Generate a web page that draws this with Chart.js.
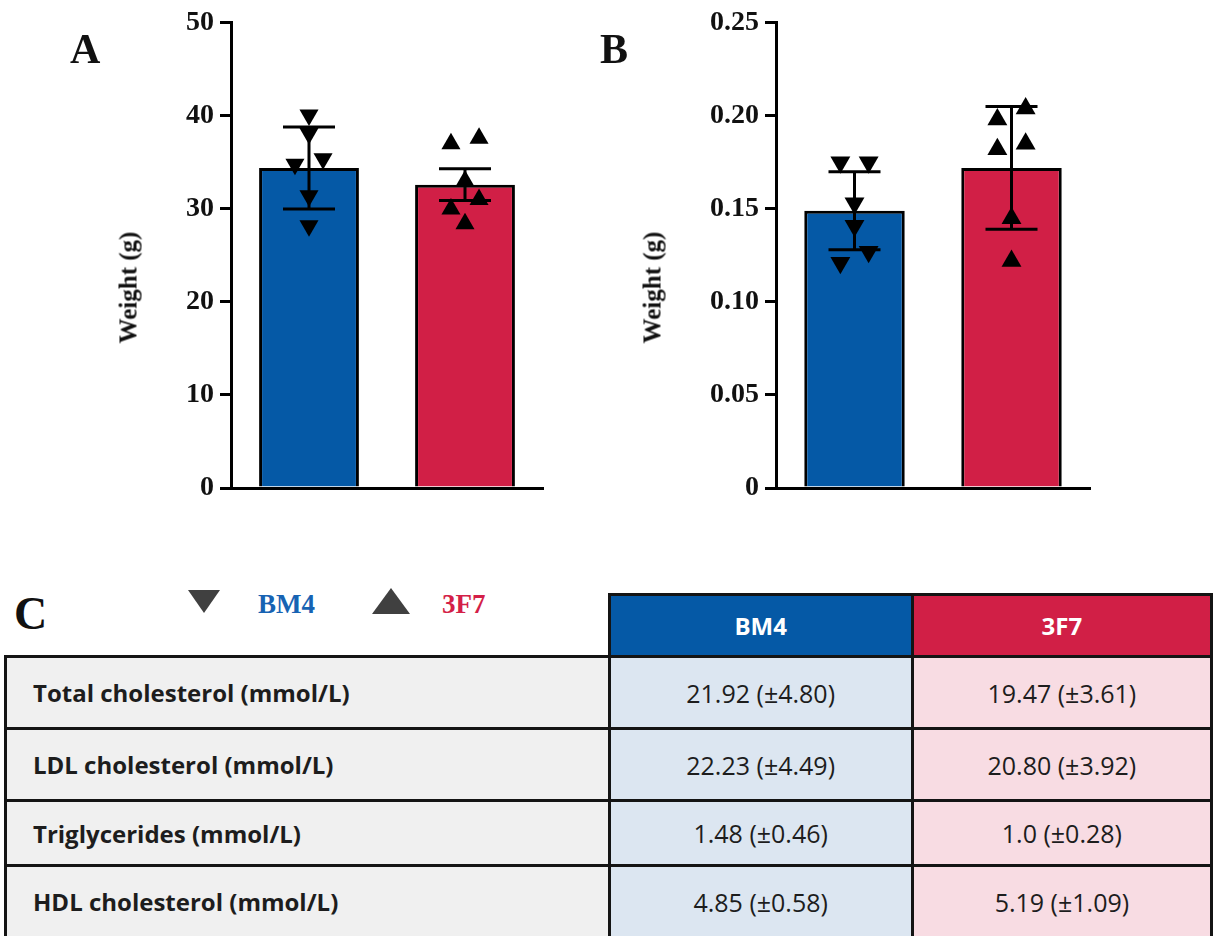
<!DOCTYPE html>
<html>
<head>
<meta charset="utf-8">
<script src="https://cdn.jsdelivr.net/npm/chart.js@4.4.0/dist/chart.umd.min.js"></script>
<style>
  html, body { margin: 0; padding: 0; background: #fff; }
  body { width: 1213px; height: 936px; position: relative; overflow: hidden; }
  .serif { position: absolute; z-index: 2; font-family: "Liberation Serif", "Times New Roman", serif; font-weight: bold; line-height: 1; white-space: nowrap; }
  .ytitle { width: 200px; text-align: center; font-size: 25px; color: #111; transform: rotate(-90deg); }
  canvas { position: absolute; top: 0; }
  #chartA { left: 0; }
  #chartB { left: 560px; }
  #legend { position: absolute; z-index: 2; left: 0; top: 570px; }
  table { position: absolute; z-index: 1; left: 4px; top: 593px; border-collapse: collapse; table-layout: fixed;
          font-family: "Open Sans", Lato, sans-serif; font-size: 25px; color: #1d1d1d; }
  td, th { border: 3px solid #141414; padding: 0; }
  th { color: #fff; font-weight: bold; font-size: 24px; text-align: center; }
  th.blank { border: none; background: transparent; }
  th.bm4 { background: #0559a6; }
  th.f7 { background: #d11f46; }
  td.label { background: #f0f0f0; font-weight: bold; font-size: 24px; padding-left: 26px; }
  td.bm4 { background: #dce6f1; text-align: center; }
  td.f7 { background: #f8dce3; text-align: center; }
</style>
</head>
<body>
<canvas id="chartA" width="560" height="520"></canvas>
<canvas id="chartB" width="560" height="520"></canvas>
<div class="serif" style="left:70px; top:28px; font-size:42px; color:#111;">A</div>
<div class="serif" style="left:600px; top:28px; font-size:42px; color:#111;">B</div>
<div class="serif ytitle" style="left:28px; top:275px;">Weight (g)</div>
<div class="serif ytitle" style="left:552px; top:275px;">Weight (g)</div>
<div class="serif" style="left:14px; top:591px; font-size:46px; color:#111;">C</div>
<svg id="legend" width="600" height="60">
  <polygon points="188,20 220,20 204,43" fill="#404040"/>
  <polygon points="372,44 410,44 391,18" fill="#404040"/>
</svg>
<div class="serif" style="left:258px; top:591px; font-size:27px; color:#1763b3;">BM4</div>
<div class="serif" style="left:442px; top:591px; font-size:27px; color:#d41f48;">3F7</div>
<table id="lipids">
  <colgroup><col style="width:607px"><col style="width:305px"><col style="width:301px"></colgroup>
</table>

<script>
// groups compared in every panel
const groups = ['BM4', '3F7'];

// A: body weight (g), one value per mouse
const bodyBM4 = [40.1, 38.1, 34.8, 35.4, 31.4, 28.2];
const body3F7 = [37.0, 37.6, 33.0, 31.0, 30.0, 28.4];
const bodyMean = [34.4, 32.6];
const bodyErr = [4.4, 1.7];
const bodyTicks = [0, 10, 20, 30, 40, 50];

// B: organ weight (g)
const organBM4 = [0.175, 0.175, 0.153, 0.141, 0.121, 0.127];
const organ3F7 = [0.198, 0.204, 0.182, 0.185, 0.145, 0.122];
const organMean = [0.149, 0.172];
const organErr = [0.021, 0.033];
const organTicks = [0, 0.05, 0.10, 0.15, 0.20, 0.25];

// C: plasma lipids
const lipidNames = ['Total cholesterol (mmol/L)', 'LDL cholesterol (mmol/L)', 'Triglycerides (mmol/L)', 'HDL cholesterol (mmol/L)'];
const lipidBM4 = ['21.92 (±4.80)', '22.23 (±4.49)', '1.48 (±0.46)', '4.85 (±0.58)'];
const lipid3F7 = ['19.47 (±3.61)', '20.80 (±3.92)', '1.0 (±0.28)', '5.19 (±1.09)'];

const barColors = ['#0559a6', '#d11f46'];
Chart.defaults.font.family = '"Liberation Serif", "Times New Roman", serif';

// put points side by side when their values nearly overlap
function dodge(values, max) {
  const thr = max * 0.03;
  const order = values.map((v, i) => i).sort((a, b) => values[a] - values[b]);
  const off = values.map(() => 0);
  for (let k = 0; k < order.length - 1; k++) {
    const i = order[k], j = order[k + 1];
    if (values[j] - values[i] < thr) { off[i] = -1; off[j] = 1; k++; }
  }
  return off;
}

function points(values, group, max) {
  const off = dodge(values, max);
  return values.map((v, i) => ({ x: group + 0.5 + off[i] * 0.09, y: v }));
}

// mean +/- error drawn right after the bars, under the points
const errorBars = {
  id: 'errorBars',
  afterDatasetDraw(chart, args, opts) {
    if (args.index !== 0) return;
    const y = chart.scales.y;
    const ctx = chart.ctx;
    ctx.save();
    ctx.strokeStyle = '#000';
    ctx.lineWidth = 3;
    args.meta.data.forEach((bar, i) => {
      const m = chart.data.datasets[0].data[i];
      const top = y.getPixelForValue(m + opts.errors[i]);
      const bot = y.getPixelForValue(m - opts.errors[i]);
      ctx.beginPath();
      ctx.moveTo(bar.x, top); ctx.lineTo(bar.x, bot);
      ctx.moveTo(bar.x - 26, top); ctx.lineTo(bar.x + 26, top);
      ctx.moveTo(bar.x - 26, bot); ctx.lineTo(bar.x + 26, bot);
      ctx.stroke();
    });
    ctx.restore();
  }
};

function drawPanel(id, bm4, f7, means, errs, ticks, cfg) {
  const max = ticks[ticks.length - 1];
  new Chart(document.getElementById(id), {
    type: 'bar',
    data: {
      labels: groups,
      datasets: [
        { data: means, backgroundColor: barColors, borderColor: '#000', borderWidth: 3, grouped: false,
          barPercentage: 0.64, categoryPercentage: 1, order: 2 },
        { type: 'scatter', data: points(bm4, 0, max), xAxisID: 'xs', pointStyle: 'triangle', rotation: 180,
          pointRadius: cfg.r, backgroundColor: '#000', borderWidth: 0, order: 0 },
        { type: 'scatter', data: points(f7, 1, max), xAxisID: 'xs', pointStyle: 'triangle',
          pointRadius: cfg.r, backgroundColor: '#000', borderWidth: 0, order: 0 }
      ]
    },
    options: {
      responsive: false,
      animation: false,
      layout: { padding: { top: 21, right: cfg.right, bottom: 32, left: 0 } },
      plugins: { legend: { display: false }, tooltip: { enabled: false }, errorBars: { errors: errs } },
      scales: {
        x: {
          grid: { display: false },
          ticks: { display: false },
          border: { color: '#000', width: 3 },
          afterFit: s => { s.height = 0; }
        },
        xs: { type: 'linear', min: 0, max: 2, offset: false, display: false },
        y: {
          min: 0, max: max,
          afterBuildTicks: s => { s.ticks = ticks.map(v => ({ value: v })); },
          afterFit: s => { s.width = cfg.axisX; },
          border: { color: '#000', width: 3 },
          grid: { drawOnChartArea: false, drawTicks: true, tickLength: 11, color: '#000', lineWidth: 3 },
          ticks: {
            color: '#111', padding: 6, font: { size: 28, weight: 'bold' },
            callback: v => v === 0 ? '0' : (max < 1 ? v.toFixed(2) : String(v))
          }
        }
      }
    },
    plugins: [errorBars]
  });
}

drawPanel('chartA', bodyBM4, body3F7, bodyMean, bodyErr, bodyTicks, { axisX: 231, right: 17, r: 11 });
drawPanel('chartB', organBM4, organ3F7, organMean, organErr, organTicks, { axisX: 216, right: 30, r: 11.5 });

// table C
const table = document.getElementById('lipids');
const heights = [72, 72, 65, 72];
let html = '<tr style="height:62px"><th class="blank"></th><th class="bm4">' + groups[0] + '</th><th class="f7">' + groups[1] + '</th></tr>';
lipidNames.forEach((name, i) => {
  html += '<tr style="height:' + heights[i] + 'px"><td class="label">' + name + '</td><td class="bm4">' + lipidBM4[i] +
          '</td><td class="f7">' + lipid3F7[i] + '</td></tr>';
});
table.insertAdjacentHTML('beforeend', html);
</script>
</body>
</html>
